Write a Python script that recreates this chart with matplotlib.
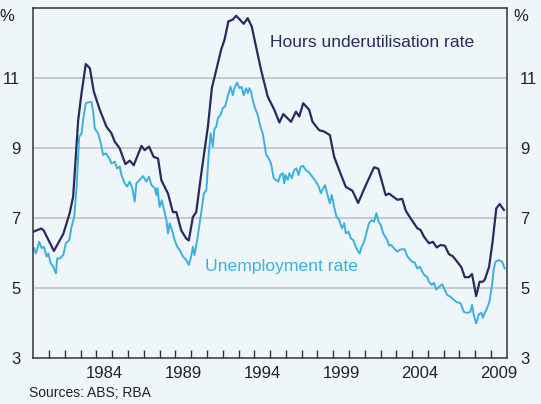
import matplotlib
matplotlib.use("Agg")
import matplotlib.pyplot as plt

plt.rcParams["font.family"] = ["Liberation Sans", "DejaVu Sans"]

# hours underutilisation rate (%)
hours_year = [1980.0, 1980.5, 1980.65, 1981.3, 1981.9, 1982.3, 1982.52, 1982.84, 1983.05, 1983.32,
              1983.58, 1983.83, 1984.21, 1984.63, 1984.95, 1985.16, 1985.47, 1985.83, 1986.11, 1986.36,
              1986.85, 1987.05, 1987.33, 1987.62, 1987.9, 1988.11, 1988.53, 1988.84, 1989.06, 1989.37,
              1989.69, 1989.85, 1990.11, 1990.32, 1990.64, 1991.06, 1991.31, 1991.59, 1991.9, 1992.11,
              1992.36, 1992.64, 1992.85, 1993.33, 1993.58, 1993.84, 1994.11, 1994.43, 1994.85, 1995.27,
              1995.59, 1995.84, 1996.33, 1996.64, 1996.85, 1997.1, 1997.48, 1997.69, 1998.11, 1998.43,
              1998.79, 1999.06, 1999.38, 1999.8, 2000.22, 2000.58, 2001.07, 2001.59, 2001.86, 2002.33,
              2002.54, 2003.07, 2003.37, 2003.6, 2003.91, 2004.33, 2004.54, 2004.75, 2005.07, 2005.32,
              2005.56, 2005.81, 2006.08, 2006.33, 2006.58, 2006.86, 2007.13, 2007.34, 2007.6, 2007.8,
              2008.06, 2008.28, 2008.49, 2008.62, 2008.88, 2009.09, 2009.34, 2009.55, 2009.82]
hours_rate = [6.6, 6.69, 6.64, 6.05, 6.54, 7.13, 7.6, 9.79, 10.55, 11.39,
              11.27, 10.6, 10.08, 9.6, 9.41, 9.17, 8.98, 8.53, 8.63, 8.5,
              9.05, 8.93, 9.03, 8.74, 8.69, 8.07, 7.69, 7.16, 7.16, 6.64,
              6.4, 6.35, 7.02, 7.16, 8.26, 9.6, 10.7, 11.22, 11.8, 12.08,
              12.61, 12.66, 12.77, 12.54, 12.7, 12.46, 11.89, 11.22, 10.46, 10.08,
              9.72, 9.96, 9.74, 10.03, 9.89, 10.27, 10.08, 9.74, 9.5, 9.46,
              9.36, 8.74, 8.36, 7.88, 7.77, 7.42, 7.93, 8.44, 8.4, 7.64,
              7.69, 7.51, 7.54, 7.2, 6.98, 6.7, 6.65, 6.46, 6.27, 6.31,
              6.15, 6.22, 6.2, 5.96, 5.9, 5.74, 5.58, 5.3, 5.3, 5.39,
              4.76, 5.17, 5.17, 5.24, 5.6, 6.27, 7.27, 7.39, 7.22]

# unemployment rate (%)
unemp_year = [1980.04, 1980.16, 1980.37, 1980.52, 1980.66, 1980.84, 1980.95, 1981.09, 1981.26, 1981.43,
              1981.51, 1981.66, 1981.89, 1982.06, 1982.27, 1982.42, 1982.59, 1982.74, 1982.9, 1983.05,
              1983.15, 1983.32, 1983.53, 1983.68, 1983.79, 1983.89, 1984.1, 1984.22, 1984.32, 1984.42,
              1984.59, 1984.8, 1984.95, 1985.16, 1985.3, 1985.47, 1985.58, 1985.79, 1985.94, 1986.1,
              1986.27, 1986.42, 1986.53, 1986.74, 1986.95, 1987.16, 1987.33, 1987.48, 1987.69, 1987.79,
              1987.86, 1988.0, 1988.14, 1988.28, 1988.43, 1988.53, 1988.64, 1988.78, 1988.95, 1989.12,
              1989.27, 1989.48, 1989.69, 1989.85, 1990.0, 1990.11, 1990.21, 1990.38, 1990.6, 1990.81,
              1990.96, 1991.1, 1991.23, 1991.37, 1991.48, 1991.59, 1991.69, 1991.86, 1992.0, 1992.15,
              1992.32, 1992.49, 1992.64, 1992.74, 1992.91, 1993.06, 1993.2, 1993.33, 1993.48, 1993.59,
              1993.69, 1993.8, 1993.9, 1994.05, 1994.22, 1994.39, 1994.53, 1994.64, 1994.75, 1994.85,
              1995.06, 1995.23, 1995.37, 1995.52, 1995.65, 1995.8, 1995.9, 1995.97, 1996.12, 1996.22,
              1996.38, 1996.53, 1996.67, 1996.8, 1996.96, 1997.1, 1997.27, 1997.44, 1997.59, 1997.74,
              1997.91, 1998.08, 1998.22, 1998.37, 1998.49, 1998.64, 1998.79, 1998.91, 1999.06, 1999.21,
              1999.38, 1999.55, 1999.7, 1999.8, 1999.97, 2000.12, 2000.27, 2000.43, 2000.58, 2000.68,
              2000.8, 2000.96, 2001.1, 2001.27, 2001.44, 2001.59, 2001.74, 2001.87, 2002.02, 2002.17,
              2002.29, 2002.43, 2002.54, 2002.68, 2002.85, 2003.06, 2003.22, 2003.37, 2003.52, 2003.7,
              2003.87, 2004.01, 2004.16, 2004.33, 2004.5, 2004.65, 2004.8, 2004.97, 2005.07, 2005.24,
              2005.38, 2005.53, 2005.7, 2005.91, 2006.08, 2006.23, 2006.44, 2006.65, 2006.86, 2007.07,
              2007.28, 2007.49, 2007.7, 2007.8, 2007.91, 2008.06, 2008.23, 2008.39, 2008.49, 2008.6,
              2008.75, 2008.9, 2009.07, 2009.18, 2009.29, 2009.5, 2009.71, 2009.87]
unemp_rate = [6.13, 5.98, 6.31, 6.13, 6.17, 5.89, 5.98, 5.7, 5.6, 5.41,
              5.84, 5.83, 5.93, 6.27, 6.36, 6.74, 7.03, 7.89, 9.31, 9.4,
              9.79, 10.27, 10.3, 10.31, 10.03, 9.55, 9.41, 9.22, 9.03, 8.79,
              8.84, 8.7, 8.55, 8.6, 8.41, 8.46, 8.22, 7.98, 7.89, 8.03,
              7.84, 7.46, 7.98, 8.08, 8.19, 8.03, 8.17, 7.93, 7.85, 7.65,
              7.84, 7.31, 7.5, 7.22, 6.93, 6.55, 6.84, 6.65, 6.36, 6.17,
              6.08, 5.89, 5.79, 5.65, 5.89, 6.17, 5.93, 6.36, 7.03, 7.7,
              7.78, 8.74, 9.41, 9.03, 9.55, 9.6, 9.84, 9.93, 10.13, 10.18,
              10.46, 10.74, 10.5, 10.7, 10.86, 10.7, 10.74, 10.5, 10.7, 10.56,
              10.7, 10.6, 10.36, 10.13, 9.93, 9.6, 9.41, 9.13, 8.79, 8.75,
              8.55, 8.13, 8.08, 8.03, 8.22, 8.27, 7.98, 8.22, 8.08, 8.27,
              8.13, 8.36, 8.41, 8.22, 8.46, 8.48, 8.36, 8.31, 8.22, 8.13,
              8.03, 7.89, 7.7, 7.84, 7.93, 7.65, 7.41, 7.65, 7.31, 7.03,
              6.94, 6.7, 6.84, 6.55, 6.6, 6.41, 6.36, 6.17, 6.03, 5.98,
              6.17, 6.31, 6.55, 6.84, 6.93, 6.89, 7.13, 6.89, 6.79, 6.55,
              6.46, 6.36, 6.2, 6.22, 6.13, 6.03, 6.08, 6.1, 6.1, 5.9,
              5.8, 5.74, 5.72, 5.55, 5.6, 5.45, 5.35, 5.3, 5.17, 5.08,
              5.14, 4.95, 5.02, 5.1, 4.93, 4.79, 4.74, 4.65, 4.58, 4.56,
              4.31, 4.28, 4.31, 4.51, 4.22, 3.98, 4.24, 4.28, 4.14, 4.28,
              4.41, 4.6, 5.08, 5.55, 5.74, 5.79, 5.74, 5.55]

year_ticks = list(range(1981, 2010))
label_years = [1984, 1989, 1994, 1999, 2004, 2009]
y_ticks = [3, 5, 7, 9, 11]

bg = "#eef6f9"
navy = "#2b2a5e"
light = "#3db0e1"

fig = plt.figure(figsize=(5.41, 4.04), dpi=100, facecolor=bg)
ax = fig.add_axes([0.0617, 0.1146, 0.875, 0.8664], facecolor=bg)

ax.plot(hours_year, hours_rate, color=navy, lw=1.6)
ax.plot(unemp_year, unemp_rate, color=light, lw=1.4)

ax.set_xlim(1980, 2010)
ax.set_ylim(3, 13)

ax.set_yticks(y_ticks)
ax.set_yticklabels([str(v) for v in y_ticks])
ax.tick_params(axis="y", left=False, right=False, labelleft=True, labelright=True,
               labelsize=12, pad=6, colors="#222222")
for v in y_ticks[1:]:
    ax.axhline(v, color="#c3c7ca", lw=1.3, zorder=0)

ax.set_xticks(year_ticks)
ax.set_xticklabels([])
ax.tick_params(axis="x", which="major", direction="in", length=6, width=1, color="#333333")
ax.set_xticks([y + 0.5 for y in label_years], minor=True)
ax.set_xticklabels([str(y) for y in label_years], minor=True)
ax.tick_params(axis="x", which="minor", length=0, labelsize=12, pad=6, colors="#222222")

for s in ax.spines.values():
    s.set_color("#333333")
    s.set_linewidth(1.1)

ax.text(-0.04, 0.995, "%", transform=ax.transAxes, ha="right", va="top", fontsize=12, color="#222222")
ax.text(1.015, 0.995, "%", transform=ax.transAxes, ha="left", va="top", fontsize=12, color="#222222")

ax.text(1995.0, 12.0, "Hours underutilisation rate", color=navy, fontsize=12.6, ha="left", va="center")
ax.text(1990.85, 5.6, "Unemployment rate", color=light, fontsize=12.6, ha="left", va="center")

fig.text(29 / 541, 1 - 393 / 404, "Sources: ABS; RBA", fontsize=10, color="#222222", ha="left", va="center")

fig.savefig("out.png", dpi=100, facecolor=bg)
